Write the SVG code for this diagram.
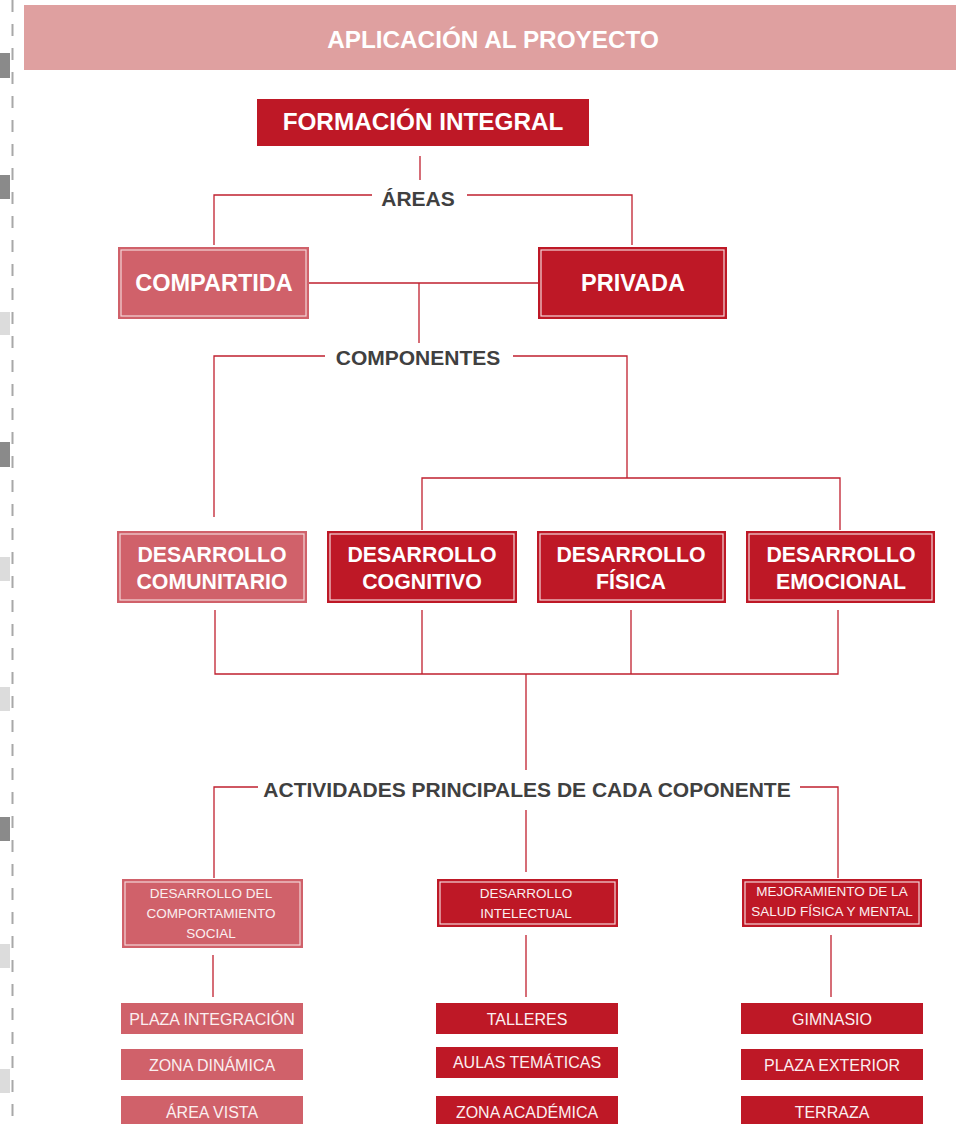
<svg xmlns="http://www.w3.org/2000/svg" width="956" height="1124" viewBox="0 0 956 1124">
<style>
.dk{fill:#BE1826}
.lt{fill:#D0616A}
.inner{fill:none;stroke:#F3D6D8;stroke-width:1.2}
.tb{font-family:"Liberation Sans",Arial,sans-serif;font-weight:bold;fill:#fff;text-anchor:middle}
.tr{font-family:"Liberation Sans",Arial,sans-serif;fill:#FBEFF0;text-anchor:middle}
.lbl{font-family:"Liberation Sans",Arial,sans-serif;font-weight:bold;fill:#404040;text-anchor:middle}
.ln{fill:none;stroke:#C0202F;stroke-width:1.3}
.dg{fill:#8A8A8A}
.lg{fill:#DCDCDC}
</style>
<rect width="956" height="1124" fill="#fff"/>
<g id="margin">
<line x1="12.5" y1="0" x2="12.5" y2="1124" stroke="#A8A8A8" stroke-width="2" stroke-dasharray="12,12"/>
<rect class="dg" x="0" y="53" width="10" height="25"/>
<rect class="dg" x="0" y="175" width="10" height="24"/>
<rect class="lg" x="0" y="312" width="10" height="23"/>
<rect class="dg" x="0" y="442" width="10" height="25"/>
<rect class="lg" x="0" y="557" width="10" height="24"/>
<rect class="lg" x="0" y="687" width="10" height="24"/>
<rect class="dg" x="0" y="817" width="10" height="24"/>
<rect class="lg" x="0" y="944" width="10" height="24"/>
<rect class="lg" x="0" y="1069" width="10" height="24"/>
</g>
<g id="header">
<rect x="24" y="5" width="932" height="65" fill="#DFA0A0"/>
<text class="tb" x="493" y="48" font-size="24.3">APLICACIÓN AL PROYECTO</text>
</g>
<g id="connectors">
<path class="ln" d="M420 156V180"/>
<path class="ln" d="M214 245V195H372M467 195H632V245"/>
<path class="ln" d="M309 283H538M419 283V343"/>
<path class="ln" d="M214 517V356H325M513 356H627V478M422 530V478H840V530"/>
<path class="ln" d="M215 610V674H838V610M422 610V674M631 610V674M526 674V770"/>
<path class="ln" d="M214 878V787H258M800 787H838V878M526 810V872"/>
<path class="ln" d="M213 955V997M526 935V997M831 935V997"/>
</g>
<g id="formacion">
<rect class="dk" x="257" y="99" width="332" height="47"/>
<text class="tb" x="423" y="130" font-size="24.3">FORMACIÓN INTEGRAL</text>
</g>
<g id="areas"><text class="lbl" x="418" y="206" font-size="21">ÁREAS</text></g>
<g id="compartida">
<rect class="lt" x="118" y="247" width="191" height="72"/>
<rect class="inner" x="121" y="250" width="185" height="66"/>
<text class="tb" x="214" y="291" font-size="23.5">COMPARTIDA</text>
</g>
<g id="privada">
<rect class="dk" x="538" y="247" width="189" height="72"/>
<rect class="inner" x="541" y="250" width="183" height="66"/>
<text class="tb" x="633" y="291" font-size="23.5">PRIVADA</text>
</g>
<g id="componentes"><text class="lbl" x="418" y="365" font-size="21">COMPONENTES</text></g>
<g id="comunitario">
<rect class="lt" x="117" y="531" width="190" height="72"/>
<rect class="inner" x="120" y="534" width="184" height="66"/>
<text class="tb" x="212" y="562" font-size="21.3">DESARROLLO</text>
<text class="tb" x="212" y="589" font-size="21.3">COMUNITARIO</text>
</g>
<g id="cognitivo">
<rect class="dk" x="327" y="531" width="190" height="72"/>
<rect class="inner" x="330" y="534" width="184" height="66"/>
<text class="tb" x="422" y="562" font-size="21.3">DESARROLLO</text>
<text class="tb" x="422" y="589" font-size="21.3">COGNITIVO</text>
</g>
<g id="fisica">
<rect class="dk" x="537" y="531" width="189" height="72"/>
<rect class="inner" x="540" y="534" width="183" height="66"/>
<text class="tb" x="631" y="562" font-size="21.3">DESARROLLO</text>
<text class="tb" x="631" y="589" font-size="21.3">FÍSICA</text>
</g>
<g id="emocional">
<rect class="dk" x="746" y="531" width="189" height="72"/>
<rect class="inner" x="749" y="534" width="183" height="66"/>
<text class="tb" x="841" y="562" font-size="21.3">DESARROLLO</text>
<text class="tb" x="841" y="589" font-size="21.3">EMOCIONAL</text>
</g>
<g id="actividades"><text class="lbl" x="527" y="797" font-size="21">ACTIVIDADES PRINCIPALES DE CADA COPONENTE</text></g>
<g id="social">
<rect class="lt" x="122" y="879" width="181" height="69"/>
<rect class="inner" x="125" y="882" width="175" height="63"/>
<text class="tr" x="211" y="898" font-size="13.5">DESARROLLO  DEL</text>
<text class="tr" x="211" y="918" font-size="13.5">COMPORTAMIENTO</text>
<text class="tr" x="211" y="938" font-size="13.5">SOCIAL</text>
</g>
<g id="intelectual">
<rect class="dk" x="437" y="879" width="181" height="48"/>
<rect class="inner" x="440" y="882" width="175" height="42"/>
<text class="tr" x="526" y="898" font-size="13.5">DESARROLLO</text>
<text class="tr" x="526" y="918" font-size="13.5">INTELECTUAL</text>
</g>
<g id="salud">
<rect class="dk" x="742" y="879" width="180" height="48"/>
<rect class="inner" x="745" y="882" width="174" height="42"/>
<text class="tr" x="832" y="896" font-size="13.5">MEJORAMIENTO DE LA</text>
<text class="tr" x="832" y="916" font-size="13.5">SALUD FÍSICA Y MENTAL</text>
</g>
<g id="plaza-integracion"><rect class="lt" x="121" y="1003" width="182" height="31"/><text class="tr" x="212" y="1025" font-size="16">PLAZA INTEGRACIÓN</text></g>
<g id="zona-dinamica"><rect class="lt" x="121" y="1049" width="182" height="31"/><text class="tr" x="212" y="1071" font-size="16">ZONA DINÁMICA</text></g>
<g id="area-vista"><rect class="lt" x="121" y="1096" width="182" height="28"/><text class="tr" x="212" y="1118" font-size="16">ÁREA VISTA</text></g>
<g id="talleres"><rect class="dk" x="436" y="1003" width="182" height="31"/><text class="tr" x="527" y="1025" font-size="16">TALLERES</text></g>
<g id="aulas"><rect class="dk" x="436" y="1047" width="182" height="31"/><text class="tr" x="527" y="1068" font-size="16">AULAS TEMÁTICAS</text></g>
<g id="zona-academica"><rect class="dk" x="436" y="1096" width="182" height="28"/><text class="tr" x="527" y="1118" font-size="16">ZONA ACADÉMICA</text></g>
<g id="gimnasio"><rect class="dk" x="741" y="1003" width="182" height="31"/><text class="tr" x="832" y="1025" font-size="16">GIMNASIO</text></g>
<g id="plaza-exterior"><rect class="dk" x="741" y="1049" width="182" height="31"/><text class="tr" x="832" y="1071" font-size="16">PLAZA EXTERIOR</text></g>
<g id="terraza"><rect class="dk" x="741" y="1096" width="182" height="28"/><text class="tr" x="832" y="1118" font-size="16">TERRAZA</text></g>
</svg>
